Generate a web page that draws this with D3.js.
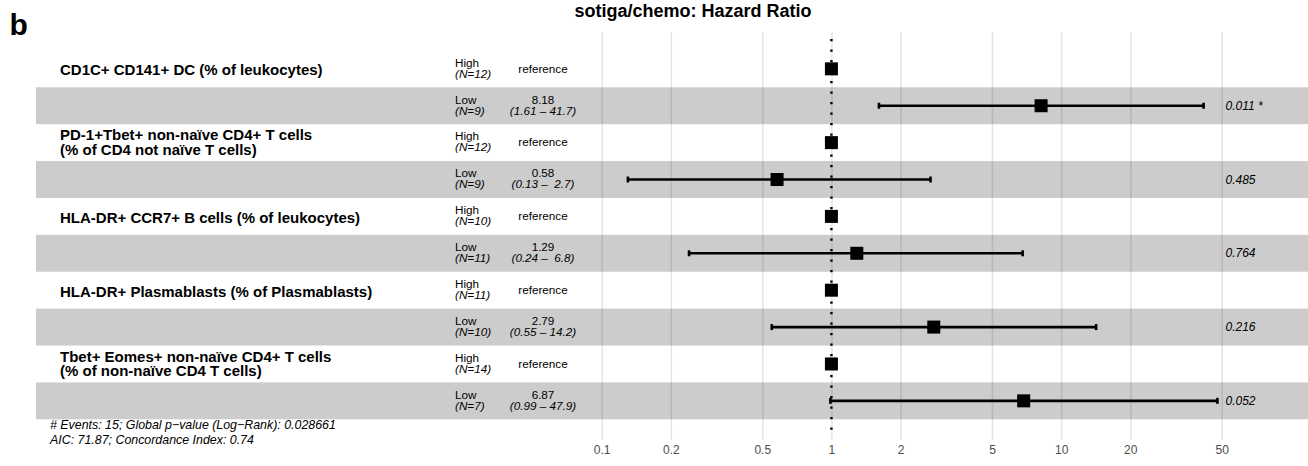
<!DOCTYPE html>
<html>
<head>
<meta charset="utf-8">
<script src="https://cdn.jsdelivr.net/npm/d3@7/dist/d3.min.js"></script>
<style>
  html, body { margin: 0; padding: 0; background: #fff; }
  svg { display: block; }
  text { font-family: "Liberation Sans", Arial, Helvetica, sans-serif; }
</style>
</head>
<body>
<svg id="chart" width="1308" height="466"></svg>
<script>
// ---------- data ----------
const panelLabel = "b";
const chartTitle = "sotiga/chemo: Hazard Ratio";
const variableLabels = [
  ["CD1C+ CD141+ DC (% of leukocytes)"],
  ["PD-1+Tbet+ non-naïve CD4+ T cells", "(% of CD4 not naïve T cells)"],
  ["HLA-DR+ CCR7+ B cells (% of leukocytes)"],
  ["HLA-DR+ Plasmablasts (% of Plasmablasts)"],
  ["Tbet+ Eomes+ non-naïve CD4+ T cells", "(% of non-naïve CD4 T cells)"]
];
const levelNames = ["High", "Low", "High", "Low", "High", "Low", "High", "Low", "High", "Low"];
const groupN     = [12, 9, 12, 9, 10, 11, 11, 10, 14, 7];
const hazardRatio = [1, 8.18, 1, 0.58, 1, 1.29, 1, 2.79, 1, 6.87];
const ciLower     = [null, 1.61, null, 0.13, null, 0.24, null, 0.55, null, 0.99];
const ciUpper     = [null, 41.7, null, 2.7, null, 6.8, null, 14.2, null, 47.9];
const pValues     = [null, 0.011, null, 0.485, null, 0.764, null, 0.216, null, 0.052];
const tickValues  = [0.1, 0.2, 0.5, 1, 2, 5, 10, 20, 50];
const footnotes = [
  "# Events: 15; Global p\u2212value (Log\u2212Rank): 0.028661",
  "AIC: 71.87; Concordance Index: 0.74"
];

// ---------- layout ----------
const W = 1308, H = 466;
const rowsTop = 50.4, rowsBottom = 419.3;
const gridTop = 32, gridBottom = 440;
const svg = d3.select("#chart");

const x = d3.scaleLog().domain([0.1, 50]).range([601.7, 1221.7]);
const rowIdx = d3.range(levelNames.length);
const y = d3.scaleBand().domain(rowIdx).range([rowsTop, rowsBottom]).paddingInner(0).paddingOuter(0);
const cy = i => y(i) + y.bandwidth() / 2;

// bands
svg.append("g").selectAll("rect")
  .data(rowIdx.filter(i => i % 2 === 1))
  .join("rect")
  .attr("x", 36).attr("width", W - 36)
  .attr("y", i => y(i)).attr("height", y.bandwidth())
  .attr("fill", "#cccccc");

// grid lines (axis)
const axis = d3.axisBottom(x).tickValues(tickValues).tickFormat(d => String(d))
  .tickSize(-(gridBottom - gridTop)).tickPadding(6);
const gAxis = svg.append("g").attr("transform", `translate(0,${gridBottom})`).call(axis);
gAxis.select(".domain").remove();
gAxis.selectAll(".tick line").attr("stroke", "#000").attr("stroke-opacity", 0.1).attr("stroke-width", 1.6);
gAxis.selectAll(".tick text")
  .attr("fill", "#4d4d4d").attr("font-size", 12)
  .attr("font-family", "'Liberation Sans', Arial, sans-serif")
  .attr("y", 13.5).attr("dy", 0);

// reference dotted line
svg.append("line")
  .attr("x1", x(1)).attr("x2", x(1))
  .attr("y1", 39).attr("y2", 438)
  .attr("stroke", "#000").attr("stroke-width", 2.4)
  .attr("stroke-dasharray", "2.2,8.3");

// panel label & title
svg.append("text").attr("x", 9.5).attr("y", 35).text(panelLabel)
  .attr("font-size", 30).attr("font-weight", "bold");
svg.append("text").attr("x", 693).attr("y", 17).attr("text-anchor", "middle")
  .text(chartTitle).attr("font-size", 18).attr("font-weight", "bold");

// variable labels
variableLabels.forEach((lines, k) => {
  const c = cy(k * 2);
  const t = svg.append("text").attr("font-size", 15).attr("font-weight", "bold");
  if (lines.length === 1) {
    t.append("tspan").attr("x", 60).attr("y", c + 6.5).text(lines[0]);
  } else {
    t.append("tspan").attr("x", 60).attr("y", c - 2.2).text(lines[0]);
    t.append("tspan").attr("x", 60).attr("y", c + 12.3).text(lines[1]);
  }
});

// level + N
const lv = svg.append("g").selectAll("g").data(rowIdx).join("g");
lv.append("text").attr("x", 455).attr("y", i => cy(i) - 2.2)
  .attr("font-size", 11.7).text(i => levelNames[i]);
lv.append("text").attr("x", 455).attr("y", i => cy(i) + 8.8)
  .attr("font-size", 11.7).attr("font-style", "italic").text(i => `(N=${groupN[i]})`);

// estimates text
lv.each(function(i) {
  const g = d3.select(this);
  if (ciLower[i] === null) {
    g.append("text").attr("x", 543).attr("y", cy(i) + 3.8).attr("text-anchor", "middle")
      .attr("font-size", 11.7).text("reference");
  } else {
    g.append("text").attr("x", 543).attr("y", cy(i) - 2.2).attr("text-anchor", "middle")
      .attr("font-size", 11.7).text(String(hazardRatio[i]));
    g.append("text").attr("x", 543).attr("y", cy(i) + 8.8).attr("text-anchor", "middle")
      .attr("font-size", 11.7).attr("font-style", "italic").style("white-space", "pre")
      .text(`(${String(ciLower[i])} \u2013 ${String(ciUpper[i]).padStart(4, " ")})`);
  }
  if (pValues[i] !== null) {
    g.append("text").attr("x", 1225.5).attr("y", cy(i) + 4).attr("font-size", 12)
      .attr("font-style", "italic").style("white-space", "pre")
      .text(String(pValues[i]) + (pValues[i] < 0.05 ? " *" : ""));
  }
});

// CI lines
const ciRows = rowIdx.filter(i => ciLower[i] !== null);
const ci = svg.append("g").selectAll("g").data(ciRows).join("g");
ci.append("line")
  .attr("x1", i => x(ciLower[i])).attr("x2", i => x(ciUpper[i]))
  .attr("y1", i => cy(i)).attr("y2", i => cy(i))
  .attr("stroke", "#000").attr("stroke-width", 2.6);
ci.append("line")
  .attr("x1", i => x(ciLower[i])).attr("x2", i => x(ciLower[i]))
  .attr("y1", i => cy(i) - 3).attr("y2", i => cy(i) + 3)
  .attr("stroke", "#000").attr("stroke-width", 2.6);
ci.append("line")
  .attr("x1", i => x(ciUpper[i])).attr("x2", i => x(ciUpper[i]))
  .attr("y1", i => cy(i) - 3).attr("y2", i => cy(i) + 3)
  .attr("stroke", "#000").attr("stroke-width", 2.6);

// point squares
const sq = 13;
svg.append("g").selectAll("rect").data(rowIdx).join("rect")
  .attr("x", i => x(hazardRatio[i]) - sq / 2).attr("y", i => cy(i) - sq / 2)
  .attr("width", sq).attr("height", sq).attr("fill", "#000");

// footnotes
footnotes.forEach((f, k) => {
  svg.append("text").attr("x", 50).attr("y", 428.5 + k * 15).attr("font-size", 12.4)
    .attr("font-style", "italic").text(f);
});
</script>
</body>
</html>
